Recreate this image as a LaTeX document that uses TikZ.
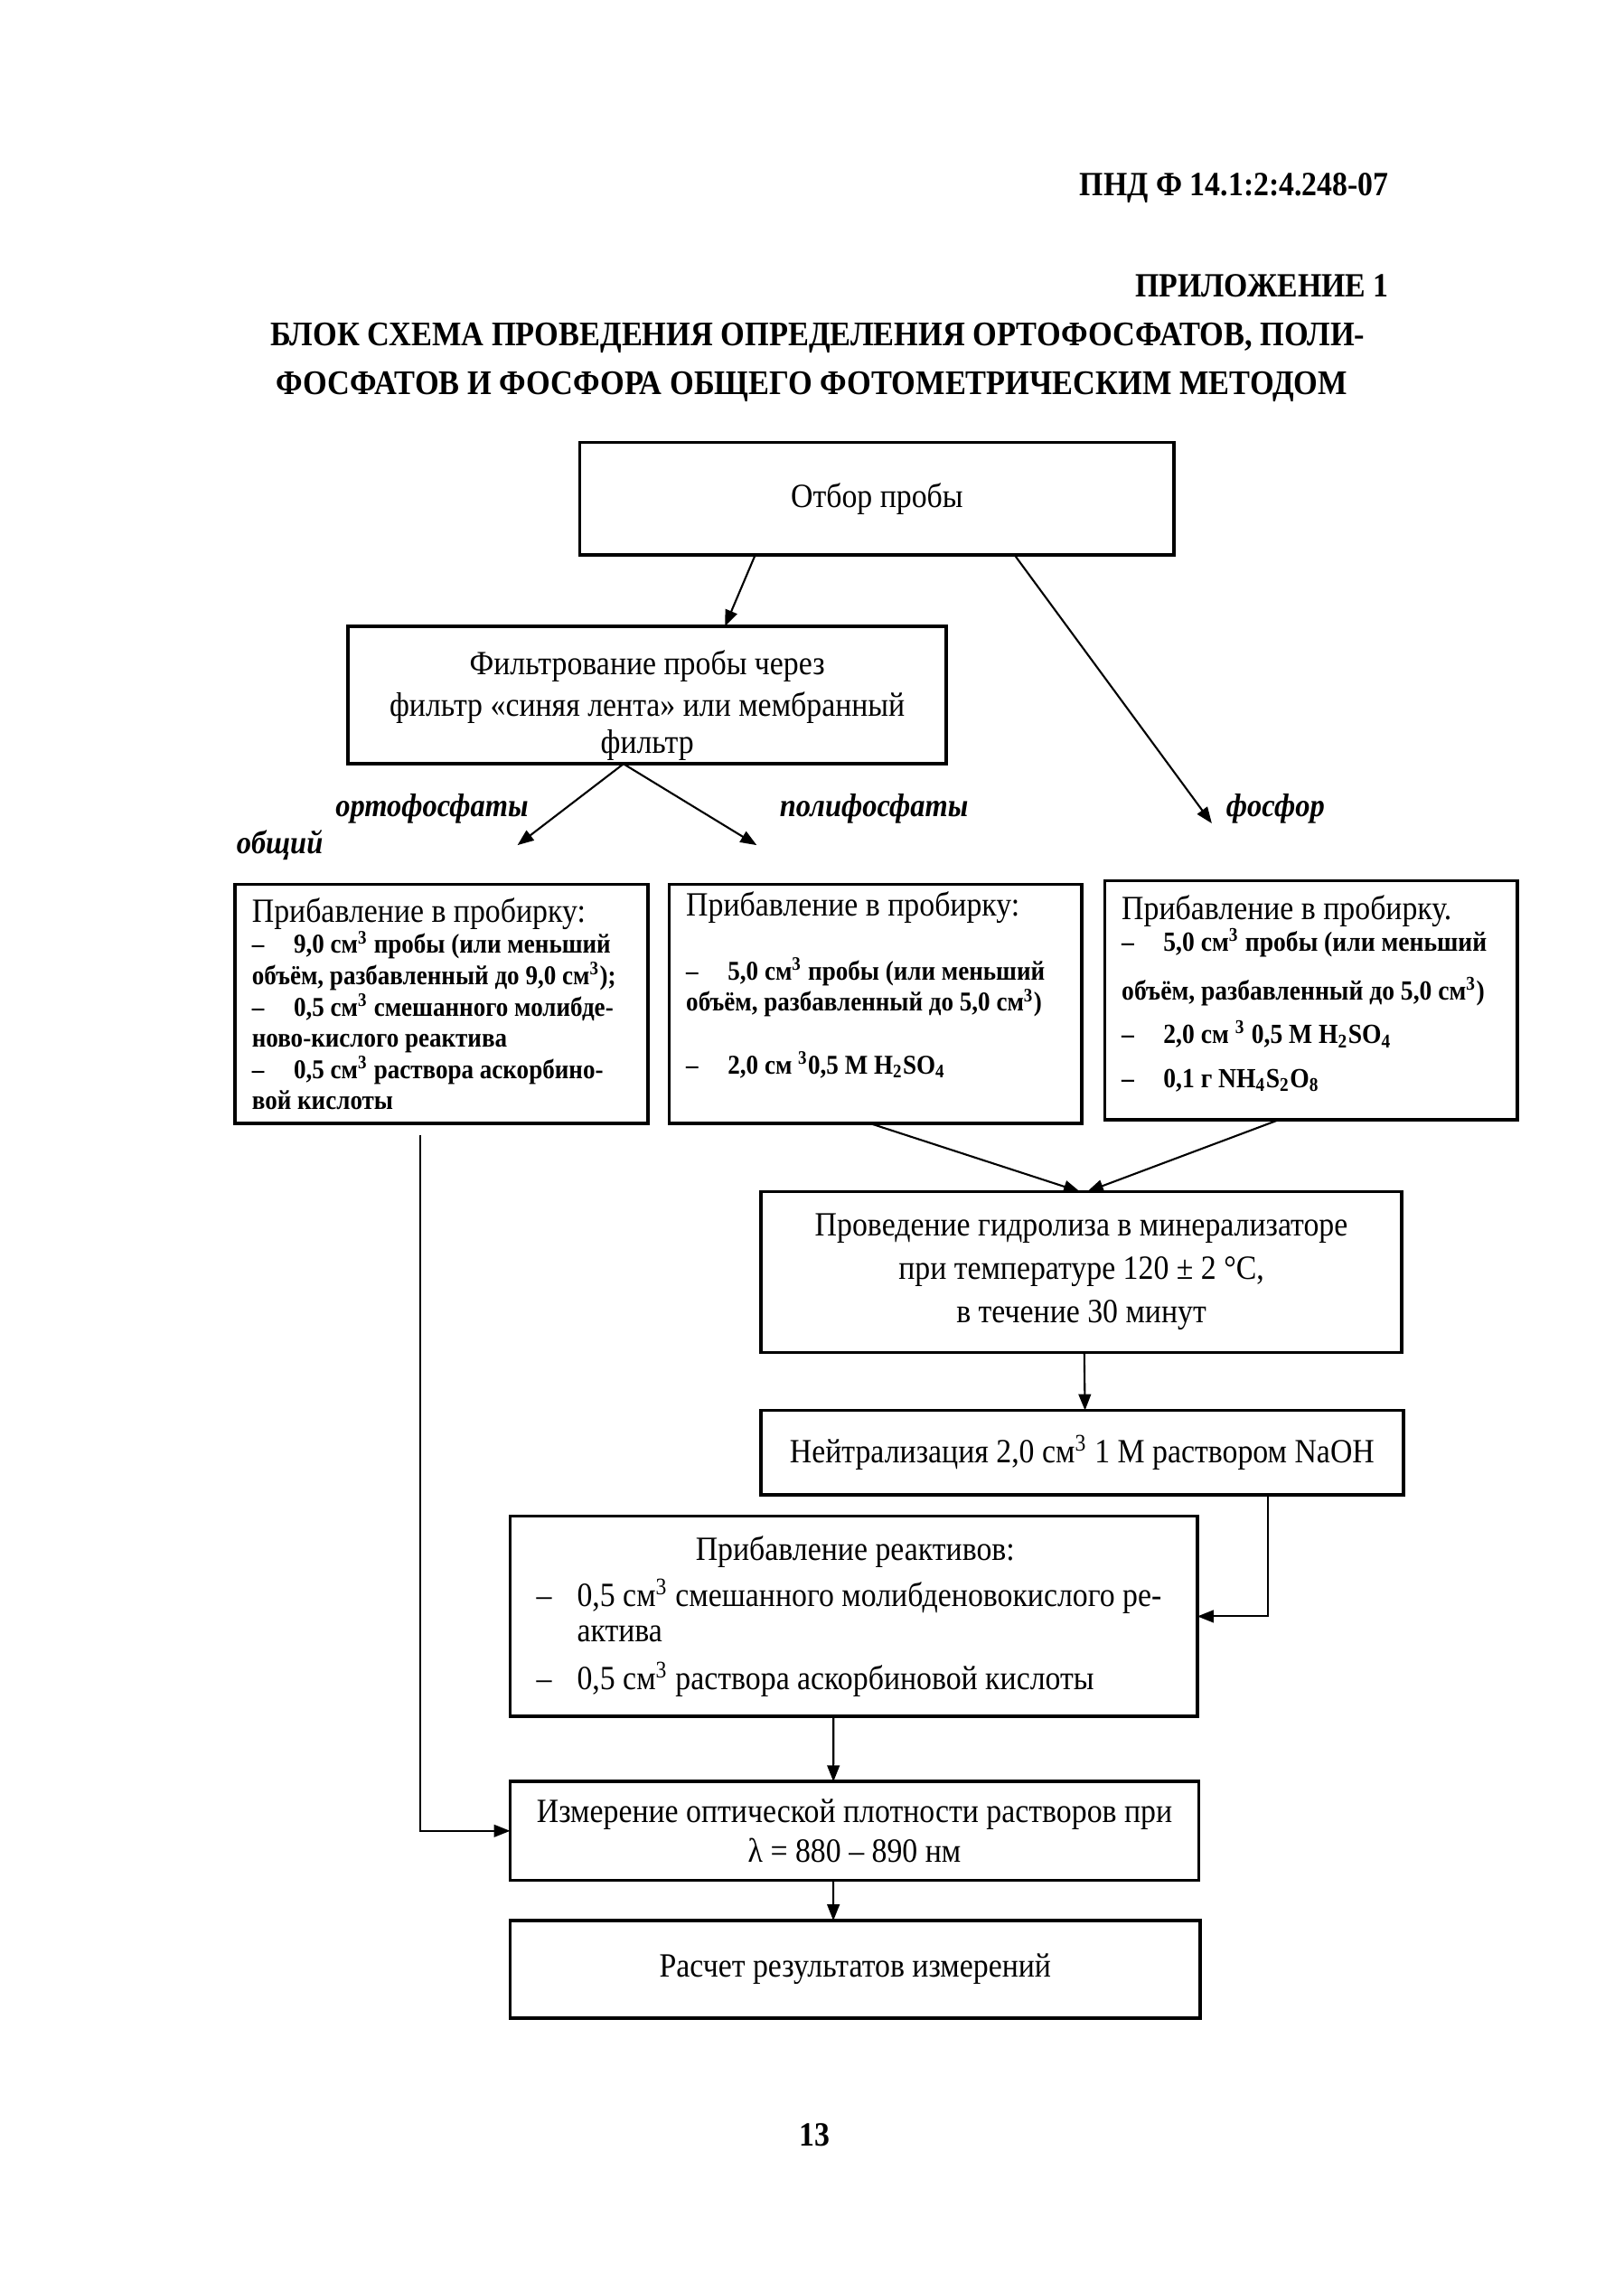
\documentclass[tikz,border=0pt]{standalone}
\usepackage{fontspec}
\setmainfont{Liberation Serif}[FakeStretch=0.9]
\usetikzlibrary{arrows.meta,positioning,calc}

\newcommand{\tubehead}{\fontsize{12.5}{14}\selectfont\mdseries}
\newcommand{\dashitem}{\makebox[0.54cm][l]{–}}

\begin{document}
\begin{tikzpicture}[
  x=0.01875cm, y=-0.01875cm,
  flow/.style={-{Triangle[length=2.1mm,width=1.6mm]}, line width=0.7pt},
  stage/.style={draw, rectangle, line width=1.2pt, align=center, inner sep=0pt, font=\fontsize{12.5}{14.5}\selectfont},
  tube/.style={draw, rectangle, line width=1.2pt, align=flush left, inner xsep=0.22cm, inner ysep=0pt,
    text width=4.9cm, minimum width=5.34cm, minimum height=3.09cm, font=\fontsize{10}{11.5}\selectfont\bfseries},
  branch/.style={font=\fontsize{12}{14}\selectfont\bfseries\itshape, inner sep=0pt},
  hdr/.style={font=\fontsize{12.5}{14}\selectfont\bfseries, inner sep=0pt},
  every node/.style={outer sep=0pt}
]
  \useasboundingbox (0,0) rectangle (1120,1568);

  % --- ШАПКА СТРАНИЦЫ ---
  \node[hdr, anchor=east] (pnd) at (958,130) {ПНД Ф 14.1:2:4.248-07};
  \node[hdr, anchor=east] (pril) at (958,197) {ПРИЛОЖЕНИЕ 1};
  \node[hdr, font=\fontsize{12.7}{14}\selectfont\bfseries] (title1) at (564,233) {БЛОК СХЕМА ПРОВЕДЕНИЯ ОПРЕДЕЛЕНИЯ ОРТОФОСФАТОВ, ПОЛИ-};
  \node[hdr, font=\fontsize{12.7}{14}\selectfont\bfseries] (title2) at (560,267) {ФОСФАТОВ И ФОСФОРА ОБЩЕГО ФОТОМЕТРИЧЕСКИМ МЕТОДОМ};

  % --- ОТБОР И ФИЛЬТРОВАНИЕ ---
  \node[stage, minimum width=7.69cm, minimum height=1.46cm] (otbor) at (605,344) {Отбор пробы};
  \node[stage, minimum width=7.74cm, minimum height=1.78cm] (filtr) at (446.5,479.5)
    {\mbox{}\\[2pt] Фильтрование пробы через\\[1pt] фильтр «синяя лента» или мембранный\\[-1pt] фильтр};

  % Подписи ветвей
  \node[branch] (orto) at (298,558) {ортофосфаты};
  \node[branch] (obsh) at (193,583) {общий};
  \node[branch] (poli) at (603,558) {полифосфаты};
  \node[branch, anchor=west] (fosf) at (846,558) {фосфор};
  \coordinate (ortotip) at (357,583);
  \coordinate (politip) at (522,583);
  \coordinate (fosftip) at (836,568);

  % --- ПРОБИРКИ ---
  \node[tube] (tube1) at (304.5,692.5) {%
    {\tubehead Прибавление в пробирку:}\\
    \dashitem 9,0 см\textsuperscript{3} пробы (или меньший\\
    объём, разбавленный до 9,0 см\textsuperscript{3});\\
    \dashitem 0,5 см\textsuperscript{3} смешанного молибде-\\
    ново-кислого реактива\\
    \dashitem 0,5 см\textsuperscript{3} раствора аскорбино-\\
    вой кислоты};
  \node[tube] (tube2) at (604,692.5) {%
    {\tubehead Прибавление в пробирку:}\\[12pt]
    \dashitem 5,0 см\textsuperscript{3} пробы (или меньший\\
    объём, разбавленный до 5,0 см\textsuperscript{3})\\[11.5pt]
    \dashitem 2,0 см \textsuperscript{3}0,5 M H\textsubscript{2}SO\textsubscript{4}\\[4pt]
    \mbox{}};
  \node[tube, font=\fontsize{10.2}{11.5}\selectfont\bfseries] (tube3) at (904.5,690) {%
    {\tubehead Прибавление в пробирку.}\\
    \dashitem 5,0 см\textsuperscript{3} пробы (или меньший\\[6.6pt]
    объём, разбавленный до 5,0 см\textsuperscript{3})\\[4.5pt]
    \dashitem 2,0 см \textsuperscript{3} 0,5 M H\textsubscript{2}SO\textsubscript{4}\\[4.5pt]
    \dashitem 0,1 г NH\textsubscript{4}S\textsubscript{2}O\textsubscript{8}\\[-5pt]
    \mbox{}};

  % --- ГИДРОЛИЗ И НЕЙТРАЛИЗАЦИЯ ---
  \node[stage, minimum width=8.29cm, minimum height=2.08cm, font=\fontsize{12.5}{16}\selectfont] (hydro) at (746,877.5)
    {Проведение гидролиза в минерализаторе\\ при температуре 120 ± 2 °C,\\ в течение 30 минут};
  \node[stage, minimum width=8.31cm, minimum height=1.09cm] (neutr) at (746.5,1002)
    {Нейтрализация 2,0 см\textsuperscript{3} 1 M раствором NaOH};

  % --- РЕАКТИВЫ, ИЗМЕРЕНИЕ, РАСЧЕТ ---
  \node[stage, align=flush left, text width=8.21cm, inner xsep=0.34cm, minimum width=8.89cm, minimum height=2.59cm,
    font=\fontsize{12.5}{15}\selectfont] (reag) at (589,1115) {%
    \hspace*{2.06cm}Прибавление реактивов:\\[2pt]
    \makebox[0.525cm][l]{–}0,5 см\textsuperscript{3} смешанного молибденовокислого ре-\\[-2pt]
    \hspace*{0.525cm}актива\\[2.6pt]
    \makebox[0.525cm][l]{–}0,5 см\textsuperscript{3} раствора аскорбиновой кислоты};
  \node[stage, minimum width=8.91cm, minimum height=1.275cm] (meas) at (589.5,1263)
    {Измерение оптической плотности растворов при\\ λ = 880 – 890 нм};
  \node[stage, minimum width=8.93cm, minimum height=1.26cm] (rasch) at (590,1358.5)
    {Расчет результатов измерений};

  \node[font=\fontsize{12.5}{14}\selectfont\bfseries] (pagenum) at (562,1473) {13};

  % --- СТРЕЛКИ ---
  \draw[flow] ($(otbor.south west)+(121,0)$) -- ($(filtr.north west)+(260,0)$);
  \draw[flow] ($(otbor.south west)+(300,0)$) -- (fosftip);
  \draw[flow] ($(filtr.south west)+(190,0)$) -- (ortotip);
  \draw[flow] ($(filtr.south west)+(190,0)$) -- (politip);

  % К гидролизу
  \draw[flow] ($(tube2.south)+(-4,0)$) -- ($(hydro.north)+(-1,0)$);
  \draw[flow] ($(tube3.south)+(-22,0)$) -- ($(hydro.north)+(4,0)$);
  \draw[flow] ($(hydro.south)+(2,0)$) -- ($(neutr.north)+(2,0)$);
  \draw[flow] ($(neutr.south west)+(350,0)$) |- (reag.east);

  % К измерению и расчету
  \draw[flow] ($(reag.south west)+(223,0)$) -- ($(meas.north west)+(223,0)$);
  \draw[flow] ($(meas.south west)+(223,0)$) -- ($(rasch.north west)+(223,0)$);
  \draw[flow, shorten <=0.15cm] ($(tube1.south west)+(128,0)$) |- (meas.west);

\end{tikzpicture}
\end{document}
